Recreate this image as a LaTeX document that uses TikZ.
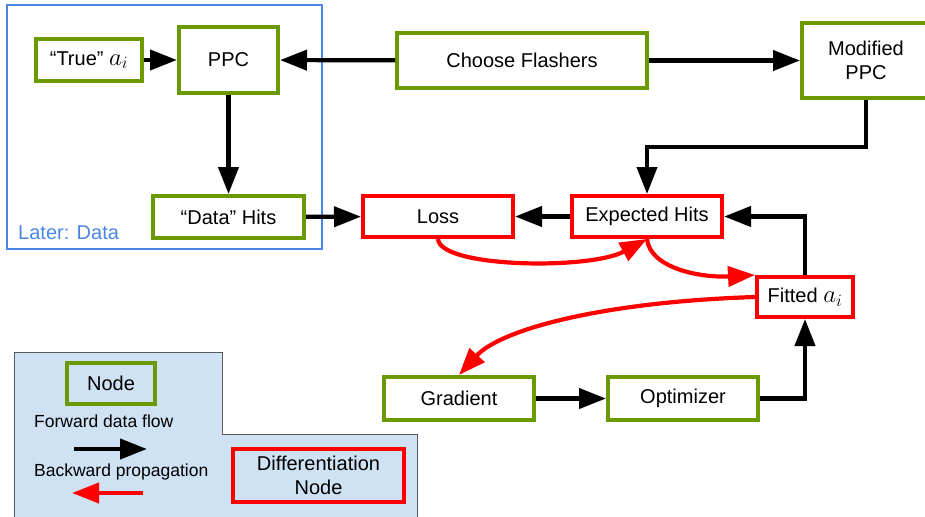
\documentclass[tikz,border=0pt]{standalone}
\usepackage{fontspec}
\setmainfont{Liberation Sans}
\usetikzlibrary{arrows.meta}
\definecolor{grn}{RGB}{106,153,0}
\definecolor{rd}{RGB}{255,0,0}
\definecolor{blu}{RGB}{74,134,232}
\definecolor{lgfill}{RGB}{207,226,243}
\definecolor{lgborder}{RGB}{89,89,89}
\newcommand{\ai}{{\fontsize{24}{24}\selectfont$a_i$}}
\tikzset{
  gbox/.style={draw=grn, line width=4pt, fill=white, inner sep=0pt, align=center, font=\fontsize{20}{23.5}\selectfont},
  rbox/.style={draw=rd, line width=4pt, fill=white, inner sep=0pt, align=center, font=\fontsize{20}{23.5}\selectfont},
  blk/.style={draw=black, line width=4.2pt, -{Triangle[length=27pt,width=20pt]}},
  redarr/.style={draw=rd, line width=4.2pt, -{Triangle[length=27pt,width=20pt]}},
  lgtext/.style={anchor=west, inner sep=0pt, font=\fontsize{17.5}{20}\selectfont},
}
\begin{document}
\begin{tikzpicture}[x=1pt,y=-1pt]
\useasboundingbox (0,0) rectangle (925,516);
\begin{scope}
\clip (0,0) rectangle (925,516);
% later data frame
\draw[blu, line width=1.5pt] (7,5) rectangle (322,249);
\node[blu, anchor=west, inner sep=0pt, font=\fontsize{20}{23.5}\selectfont] (later) at (18,233) {Later: Data};

% legend background
\draw[lgborder, fill=lgfill, line width=1pt] (14,352) -- (222,352) -- (222,434) -- (417,434) -- (417,520) -- (14,520) -- cycle;

% nodes
\node[gbox, minimum width=106pt, minimum height=42pt] (true) at (89,60) {``True'' \ai};
\node[gbox, minimum width=99pt, minimum height=66pt] (ppc) at (228.5,60) {PPC};
\node[gbox, minimum width=250pt, minimum height=55pt] (choose) at (522,60.5) {Choose Flashers};
\node[gbox, minimum width=128pt, minimum height=75pt] (mod) at (866,60.5) {Modified\\PPC};
\node[gbox, minimum width=151pt, minimum height=42pt] (data) at (228.5,217) {``Data'' Hits};
\node[rbox, minimum width=150pt, minimum height=41pt] (loss) at (438,216.5) {Loss};
\node[rbox, minimum width=150pt, minimum height=41pt] (exp) at (647,216.5) {Expected Hits};
\node[rbox, minimum width=96pt, minimum height=40pt] (fit) at (805,297) {Fitted \ai};
\node[gbox, minimum width=150pt, minimum height=43pt] (grad) at (459,398.5) {Gradient};
\node[gbox, minimum width=150pt, minimum height=43pt] (opt) at (683,398.5) {Optimizer};

% black connectors
\draw[blk] (true) -- (ppc);
\draw[blk] (choose) -- (ppc);
\draw[blk] (choose) -- (mod);
\draw[blk] (ppc) -- (data);
\draw[blk] (data) -- (loss);
\draw[blk] (exp) -- (loss);
\draw[blk] (grad) -- (opt);
\draw[blk] (mod.south) -- (866,147) -| (exp.north);
\draw[blk] (fit.north) |- (exp.east);
\draw[blk] (opt.east) -| (fit.south);

% red backward curves
\draw[redarr] (loss.south) .. controls (440,268) and (590,270) .. (exp.south);
\draw[redarr] (exp.south) .. controls (650,268) and (700,278) .. (fit.north west);
\draw[redarr] (fit.west) .. controls (600,302) and (500,330) .. (grad.north);

% legend
\node[gbox, minimum width=88pt, minimum height=41pt, fill=lgfill] (lgnode) at (111,383.5) {Node};
\node[lgtext] (fwd) at (34,421) {Forward data flow};
\coordinate (fa) at (74,449);
\coordinate (fb) at (147,449);
\draw[blk] (fa) -- (fb);
\node[lgtext] (bwd) at (34,472) {Backward propagation};
\coordinate (ba) at (143,493);
\coordinate (bb) at (72,493);
\draw[redarr] (ba) -- (bb);
\node[rbox, minimum width=171pt, minimum height=53pt, fill=lgfill] (lgdiff) at (318.5,475.5) {Differentiation\\Node};
\end{scope}
\end{tikzpicture}
\end{document}
